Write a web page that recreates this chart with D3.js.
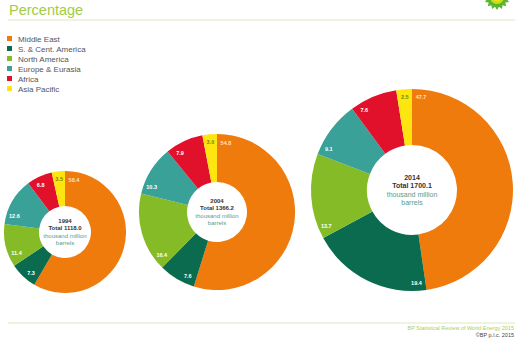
<!DOCTYPE html>
<html>
<head>
<meta charset="utf-8">
<script src="https://cdn.jsdelivr.net/npm/d3@7"></script>
<style>
  body { margin: 0; background: #fff; }
  svg { display: block; font-family: "Liberation Sans", Arial, sans-serif; }
</style>
</head>
<body>
<div id="chart"></div>
<script>
// data
const regions = ['Middle East', 'S. & Cent. America', 'North America', 'Europe & Eurasia', 'Africa', 'Asia Pacific'];
const years = ['1994', '2004', '2014'];
const totals = [1118.0, 1366.2, 1700.1];
const share1994 = [58.4, 7.3, 11.4, 12.6, 6.8, 3.5];
const share2004 = [54.8, 7.6, 16.4, 10.3, 7.9, 3.0];
const share2014 = [47.7, 19.4, 13.7, 9.1, 7.6, 2.5];
const shares = [share1994, share2004, share2014];

const colors = ['#ee7b0c', '#0b6b4e', '#85bb26', '#3aa198', '#e1112b', '#ffe50f'];

const width = 520, height = 346;
const svg = d3.select('#chart').append('svg')
  .attr('width', width)
  .attr('height', height);

// title + rules
svg.append('text')
  .attr('x', 9).attr('y', 15)
  .attr('fill', '#a2cc45')
  .style('font-size', '14.5px')
  .text('Percentage');

svg.append('line')
  .attr('x1', 8).attr('x2', 515).attr('y1', 20).attr('y2', 20)
  .attr('stroke', '#dfe6c4').attr('stroke-width', 1);

// bp helios (partial, top right)
const helios = svg.append('g').attr('transform', 'translate(497,-3)');
const pts = d3.range(32).map(i => {
  const a = i / 32 * 2 * Math.PI;
  const r = i % 2 ? 10 : 13;
  return [r * Math.sin(a), -r * Math.cos(a)];
});
helios.append('path').attr('d', d3.line()(pts) + 'Z').attr('fill', '#5ab52f');
helios.append('circle').attr('r', 7).attr('fill', '#c8dc2a');
helios.append('circle').attr('r', 4).attr('fill', '#ffe600');

// legend
const legend = svg.append('g').attr('transform', 'translate(7,36)');
const item = legend.selectAll('g').data(regions).enter().append('g')
  .attr('transform', (d, i) => `translate(0,${i * 10})`);
item.append('rect')
  .attr('width', 5).attr('height', 5)
  .attr('fill', (d, i) => colors[i]);
item.append('text')
  .attr('x', 11).attr('y', 5.5)
  .attr('fill', '#555')
  .style('font-size', '8px')
  .text(d => d);

// donuts
const radius = d3.scaleLinear().domain([totals[0], totals[2]]).range([61, 101]);
const centers = [[65, 232], [217, 212], [412, 190]];
const holes = [26, 30, 45];
const pie = d3.pie().sort(null).value(d => d);

years.forEach((yr, k) => {
  const R = radius(totals[k]);
  const g = svg.append('g').attr('transform', `translate(${centers[k][0]},${centers[k][1]})`);
  const arcs = pie(shares[k]);
  const arc = d3.arc().innerRadius(holes[k]).outerRadius(R);

  g.selectAll('path').data(arcs).enter().append('path')
    .attr('d', arc)
    .attr('fill', (d, i) => colors[i]);

  // value labels just inside the outer edge, near each segment start
  const lr = R - 8;
  const ang = d => d.startAngle + Math.min((d.endAngle - d.startAngle) / 2, 9 / lr);
  g.selectAll('text.val').data(arcs).enter().append('text')
    .attr('class', 'val')
    .attr('x', d => lr * Math.sin(ang(d)))
    .attr('y', d => -lr * Math.cos(ang(d)) + 2)
    .attr('text-anchor', 'middle')
    .attr('fill', (d, i) => i === 5 ? '#6b8a10' : (i === 0 ? '#fde3c6' : '#fff'))
    .style('font-size', '5.5px')
    .style('font-weight', 'bold')
    .text(d => d.data.toFixed(1));

  // centre text
  const fs = k === 2 ? 7 : 6;
  const lh = fs + 1.5;
  const lines = [
    { t: yr, c: '#333', w: 'bold' },
    { t: 'Total ' + totals[k].toFixed(1), c: '#333', w: 'bold' },
    { t: 'thousand million', c: '#5a9a8c', w: 'normal' },
    { t: 'barrels', c: '#5a9a8c', w: 'normal' }
  ];
  g.selectAll('text.ctr').data(lines).enter().append('text')
    .attr('class', 'ctr')
    .attr('x', 0)
    .attr('y', (d, i) => (i - 1.5) * lh + fs * 0.35)
    .attr('text-anchor', 'middle')
    .attr('fill', d => d.c)
    .style('font-weight', d => d.w)
    .style('font-size', fs + 'px')
    .text(d => d.t);
});

// footer
svg.append('line')
  .attr('x1', 8).attr('x2', 515).attr('y1', 323).attr('y2', 323)
  .attr('stroke', '#dfe6c4').attr('stroke-width', 1);
svg.append('text')
  .attr('x', 514).attr('y', 330)
  .attr('text-anchor', 'end')
  .attr('fill', '#a9cf5a')
  .style('font-size', '5.5px')
  .text('BP Statistical Review of World Energy 2015');
svg.append('text')
  .attr('x', 514).attr('y', 337)
  .attr('text-anchor', 'end')
  .attr('fill', '#444')
  .style('font-size', '5.5px')
  .text('\u00A9BP p.l.c. 2015');
</script>
</body>
</html>
